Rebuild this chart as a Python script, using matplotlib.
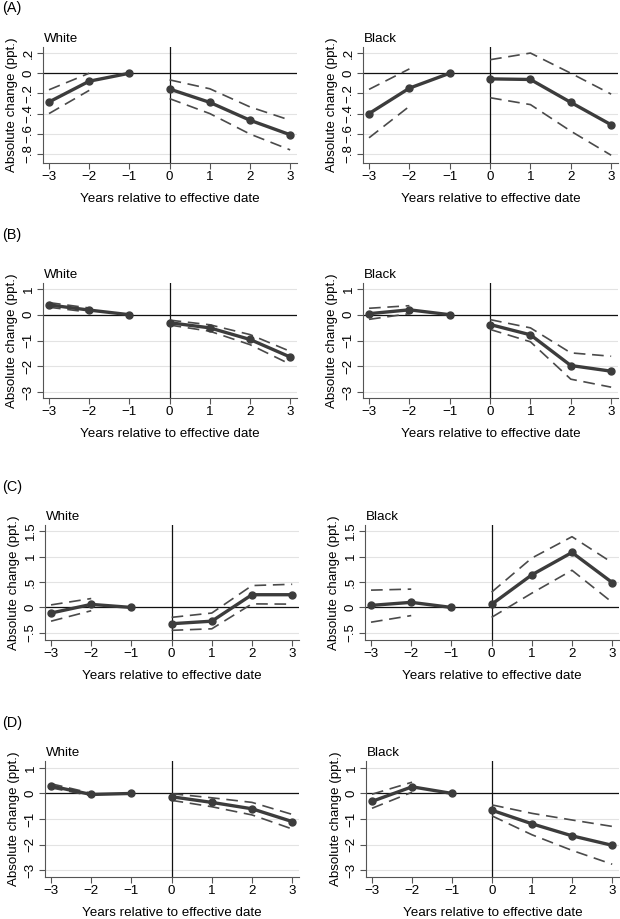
import matplotlib
matplotlib.use("Agg")
import matplotlib.pyplot as plt

plt.rcParams['font.family'] = ['Liberation Sans', 'DejaVu Sans']

years = [-3, -2, -1, 0, 1, 2, 3]
ci_pre = [-3, -2]
ci_post = [0, 1, 2, 3]

# (A)
a_white = [-0.285, -0.079, 0, -0.157, -0.289, -0.466, -0.61]
a_white_hi = [-0.164, 0.0, -0.066, -0.154, -0.334, -0.466]
a_white_lo = [-0.40, -0.17, -0.252, -0.40, -0.603, -0.76]
a_black = [-0.40, -0.148, 0, -0.056, -0.062, -0.289, -0.511]
a_black_hi = [-0.16, 0.043, 0.134, 0.2, 0.0, -0.207]
a_black_lo = [-0.64, -0.328, -0.243, -0.311, -0.574, -0.813]
# (B)
b_white = [0.38, 0.18, 0, -0.31, -0.51, -0.96, -1.64]
b_white_hi = [0.47, 0.26, -0.21, -0.39, -0.77, -1.42]
b_white_lo = [0.29, 0.10, -0.40, -0.64, -1.16, -1.92]
b_black = [0.04, 0.19, 0, -0.38, -0.78, -1.97, -2.19]
b_black_hi = [0.25, 0.35, -0.19, -0.51, -1.48, -1.61]
b_black_lo = [-0.18, 0.04, -0.57, -1.05, -2.5, -2.81]
# (C)
c_white = [-0.11, 0.06, 0, -0.32, -0.27, 0.25, 0.25]
c_white_hi = [0.05, 0.175, -0.195, -0.11, 0.43, 0.455]
c_white_lo = [-0.27, -0.065, -0.45, -0.42, 0.07, 0.065]
c_black = [0.04, 0.10, 0, 0.06, 0.64, 1.08, 0.49]
c_black_hi = [0.34, 0.36, 0.30, 0.97, 1.39, 0.88]
c_black_lo = [-0.29, -0.16, -0.195, 0.28, 0.73, 0.10]
# (D)
d_white = [0.29, -0.04, 0, -0.13, -0.35, -0.60, -1.10]
d_white_hi = [0.38, 0.01, -0.01, -0.17, -0.35, -0.82]
d_white_lo = [0.22, -0.09, -0.27, -0.52, -0.84, -1.39]
d_black = [-0.31, 0.26, 0, -0.66, -1.19, -1.66, -2.03]
d_black_hi = [-0.03, 0.44, -0.45, -0.78, -1.04, -1.29]
d_black_lo = [-0.58, 0.05, -0.88, -1.62, -2.23, -2.77]

ticks_a = [0.2, 0, -0.2, -0.4, -0.6, -0.8]
labels_a = ['.2', '0', '\u2212.2', '\u2212.4', '\u2212.6', '\u2212.8']
ticks_bd = [1, 0, -1, -2, -3]
labels_bd = ['1', '0', '\u22121', '\u22122', '\u22123']
ticks_c = [1.5, 1, 0.5, 0, -0.5]
labels_c = ['1.5', '1', '.5', '0', '\u2212.5']
xlabels = ['\u22123', '\u22122', '\u22121', '0', '1', '2', '3']

W, H = 620, 919
fig = plt.figure(figsize=(W / 100, H / 100), dpi=100)

line_col = '#3c3c3c'
ci_col = '#4a4a4a'
fs = 9.6


def make_ax(x0, x1, y0, y1):
    return fig.add_axes([x0 / W, 1 - y1 / H, (x1 - x0) / W, (y1 - y0) / H])


def panel(ax, est, hi, lo, ylim, ticks, tlabels, group):
    ax.set_xlim(-3.15, 3.17)
    ax.set_ylim(*ylim)
    ax.set_yticks(ticks)
    ax.set_yticklabels(tlabels, rotation=90, va='center', fontsize=fs)
    ax.set_xticks(years)
    ax.set_xticklabels(xlabels, fontsize=fs)
    ax.grid(axis='y', color='#e3e3e3', lw=0.8)
    ax.set_axisbelow(True)
    for s in ['top', 'right']:
        ax.spines[s].set_visible(False)
    for s in ['left', 'bottom']:
        ax.spines[s].set_color('#555555')
        ax.spines[s].set_linewidth(0.8)
    ax.tick_params(length=4, width=0.8, color='#555555', pad=2)
    ax.axhline(0, color='#111111', lw=0.9, zorder=2)
    ax.axvline(0, color='#111111', lw=0.9, zorder=2)
    n = len(ci_pre)
    for xs, ys in [(ci_pre, hi[:n]), (ci_pre, lo[:n]), (ci_post, hi[n:]), (ci_post, lo[n:])]:
        ax.plot(xs, ys, color=ci_col, lw=1.2, dashes=(7, 4), zorder=3)
    ax.plot(years[:3], est[:3], color=line_col, lw=2.4, marker='o', ms=5, zorder=4)
    ax.plot(years[3:], est[3:], color=line_col, lw=2.4, marker='o', ms=5, zorder=4)
    ax.set_xlabel('Years relative to effective date', fontsize=fs, labelpad=7)
    ax.set_ylabel('Absolute change (ppt.)', fontsize=fs, labelpad=3)
    ax.text(0.005, 1.02, group, transform=ax.transAxes, ha='left', va='bottom', fontsize=fs)


rows = [
    ('(A)', 8, (47, 163), (43, 297), (363, 618), (-0.89, 0.26), ticks_a, labels_a,
     (a_white, a_white_hi, a_white_lo), (a_black, a_black_hi, a_black_lo)),
    ('(B)', 235, (283, 398), (43, 297), (363, 618), (-3.23, 1.23), ticks_bd, labels_bd,
     (b_white, b_white_hi, b_white_lo), (b_black, b_black_hi, b_black_lo)),
    ('(C)', 487, (525, 640), (45, 299), (365, 619), (-0.64, 1.62), ticks_c, labels_c,
     (c_white, c_white_hi, c_white_lo), (c_black, c_black_hi, c_black_lo)),
    ('(D)', 723, (761, 877), (45, 299), (366, 619), (-3.27, 1.27), ticks_bd, labels_bd,
     (d_white, d_white_hi, d_white_lo), (d_black, d_black_hi, d_black_lo)),
]

for tag, ty, (y0, y1), lx, rx, ylim, ticks, tl, wdat, bdat in rows:
    fig.text(2 / W, 1 - ty / H, tag, ha='left', va='center', fontsize=fs + 0.8)
    axl = make_ax(lx[0], lx[1], y0, y1)
    panel(axl, *wdat, ylim, ticks, tl, 'White')
    axr = make_ax(rx[0], rx[1], y0, y1)
    panel(axr, *bdat, ylim, ticks, tl, 'Black')

fig.savefig('out.png', dpi=100, facecolor='white')
